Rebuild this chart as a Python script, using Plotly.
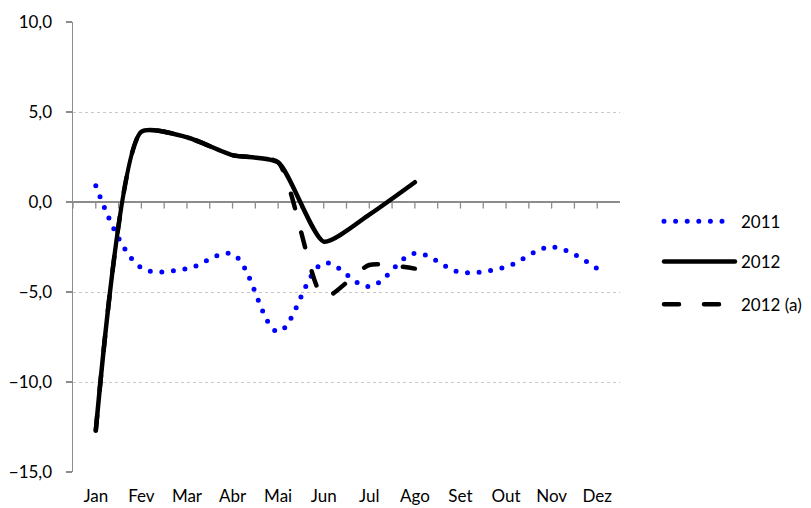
import plotly.graph_objects as go

# Monthly variation (%), values per month
months = ["Jan", "Fev", "Mar", "Abr", "Mai", "Jun", "Jul", "Ago", "Set", "Out", "Nov", "Dez"]
s2011 = [0.9, -3.65, -3.7, -2.9, -7.2, -3.4, -4.7, -2.85, -3.9, -3.6, -2.5, -3.7]
s2012 = [-12.7, 3.9, 3.6, 2.6, 2.2, -2.2, -0.7, 1.1]
s2012a = [-12.7, 3.9, 3.6, 2.6, 2.2, -5.3, -3.5, -3.7]
y_ticks = [-15, -10, -5, 0, 5, 10]

names = ["2011", "2012", "2012 (a)"]
colors = ["#0000ff", "#000000", "#000000"]
dashes = ["0px,11.6px", "solid", "15px,25px"]
widths = [5, 4.5, 4.5]
smooth = [1.0, 0.6, 0.6]
series = [s2011, s2012, s2012a]

x_idx = list(range(len(months)))

fig = go.Figure()
for name, vals, col, dash, w, sm in zip(names, series, colors, dashes, widths, smooth):
    fig.add_trace(go.Scatter(
        x=x_idx[:len(vals)], y=vals, mode="lines", name=name,
        line=dict(color=col, width=w, dash=dash, shape="spline", smoothing=sm),
        showlegend=False, hoverinfo="skip",
    ))

plot_l, plot_r = 73, 620
pw = plot_r - plot_l

shapes = []
# major and minor tick marks along the zero line
for k in range(0, 24):
    xv = -0.5 + k * 0.5
    shapes.append(dict(
        type="line", xref="x", yref="y", ysizemode="pixel", yanchor=0,
        x0=xv, x1=xv, y0=0, y1=-6, line=dict(color="#8c8c8c", width=1.3), layer="below",
    ))

# legend drawn beside the plot area
leg_y = [0.557, 0.468, 0.373]
leg_x0 = (664 - plot_l) / pw
annotations = []
for name, col, dash, w, yy in zip(names, colors, dashes, widths, leg_y):
    x1 = ((735 if name == "2012" else 724) - plot_l) / pw
    shapes.append(dict(
        type="line", xref="paper", yref="paper", x0=leg_x0, x1=x1, y0=yy, y1=yy,
        line=dict(color=col, width=w, dash=dash),
    ))
    annotations.append(dict(
        xref="paper", yref="paper", x=(739 - plot_l) / pw, y=yy, text=name, showarrow=False,
        xanchor="left", yanchor="middle", font=dict(size=17, color="#000000"),
    ))

fig.update_layout(
    width=811, height=508,
    margin=dict(l=plot_l, r=811 - plot_r, t=22, b=36, autoexpand=False),
    paper_bgcolor="white", plot_bgcolor="white",
    font=dict(family="Lato", size=17, color="#000000"),
    separators=",.",
    shapes=shapes, annotations=annotations,
    showlegend=False,
    xaxis=dict(
        range=[-0.5, 11.5], tickmode="array", tickvals=x_idx, ticktext=months,
        showline=False, showgrid=False, zeroline=False, ticks="",
        ticklabelstandoff=12, automargin=False,
    ),
    yaxis=dict(
        range=[-15, 10], tickmode="array", tickvals=y_ticks, tickformat=".1f",
        showline=True, linecolor="#8c8c8c", linewidth=1.5,
        ticks="outside", ticklen=6, tickcolor="#8c8c8c", tickwidth=1.3,
        showgrid=True, gridcolor="#c8c8c8", griddash="dot", gridwidth=1,
        zeroline=True, zerolinecolor="#8c8c8c", zerolinewidth=1.5,
        ticklabelstandoff=10, automargin=False,
    ),
)

post = """
var st = document.createElement('style');
st.textContent = '.js-line, .shapelayer path { stroke-linecap: round !important; }';
document.head.appendChild(st);
"""
fig.write_html("out.html", config={"displayModeBar": False, "staticPlot": True}, post_script=post)
